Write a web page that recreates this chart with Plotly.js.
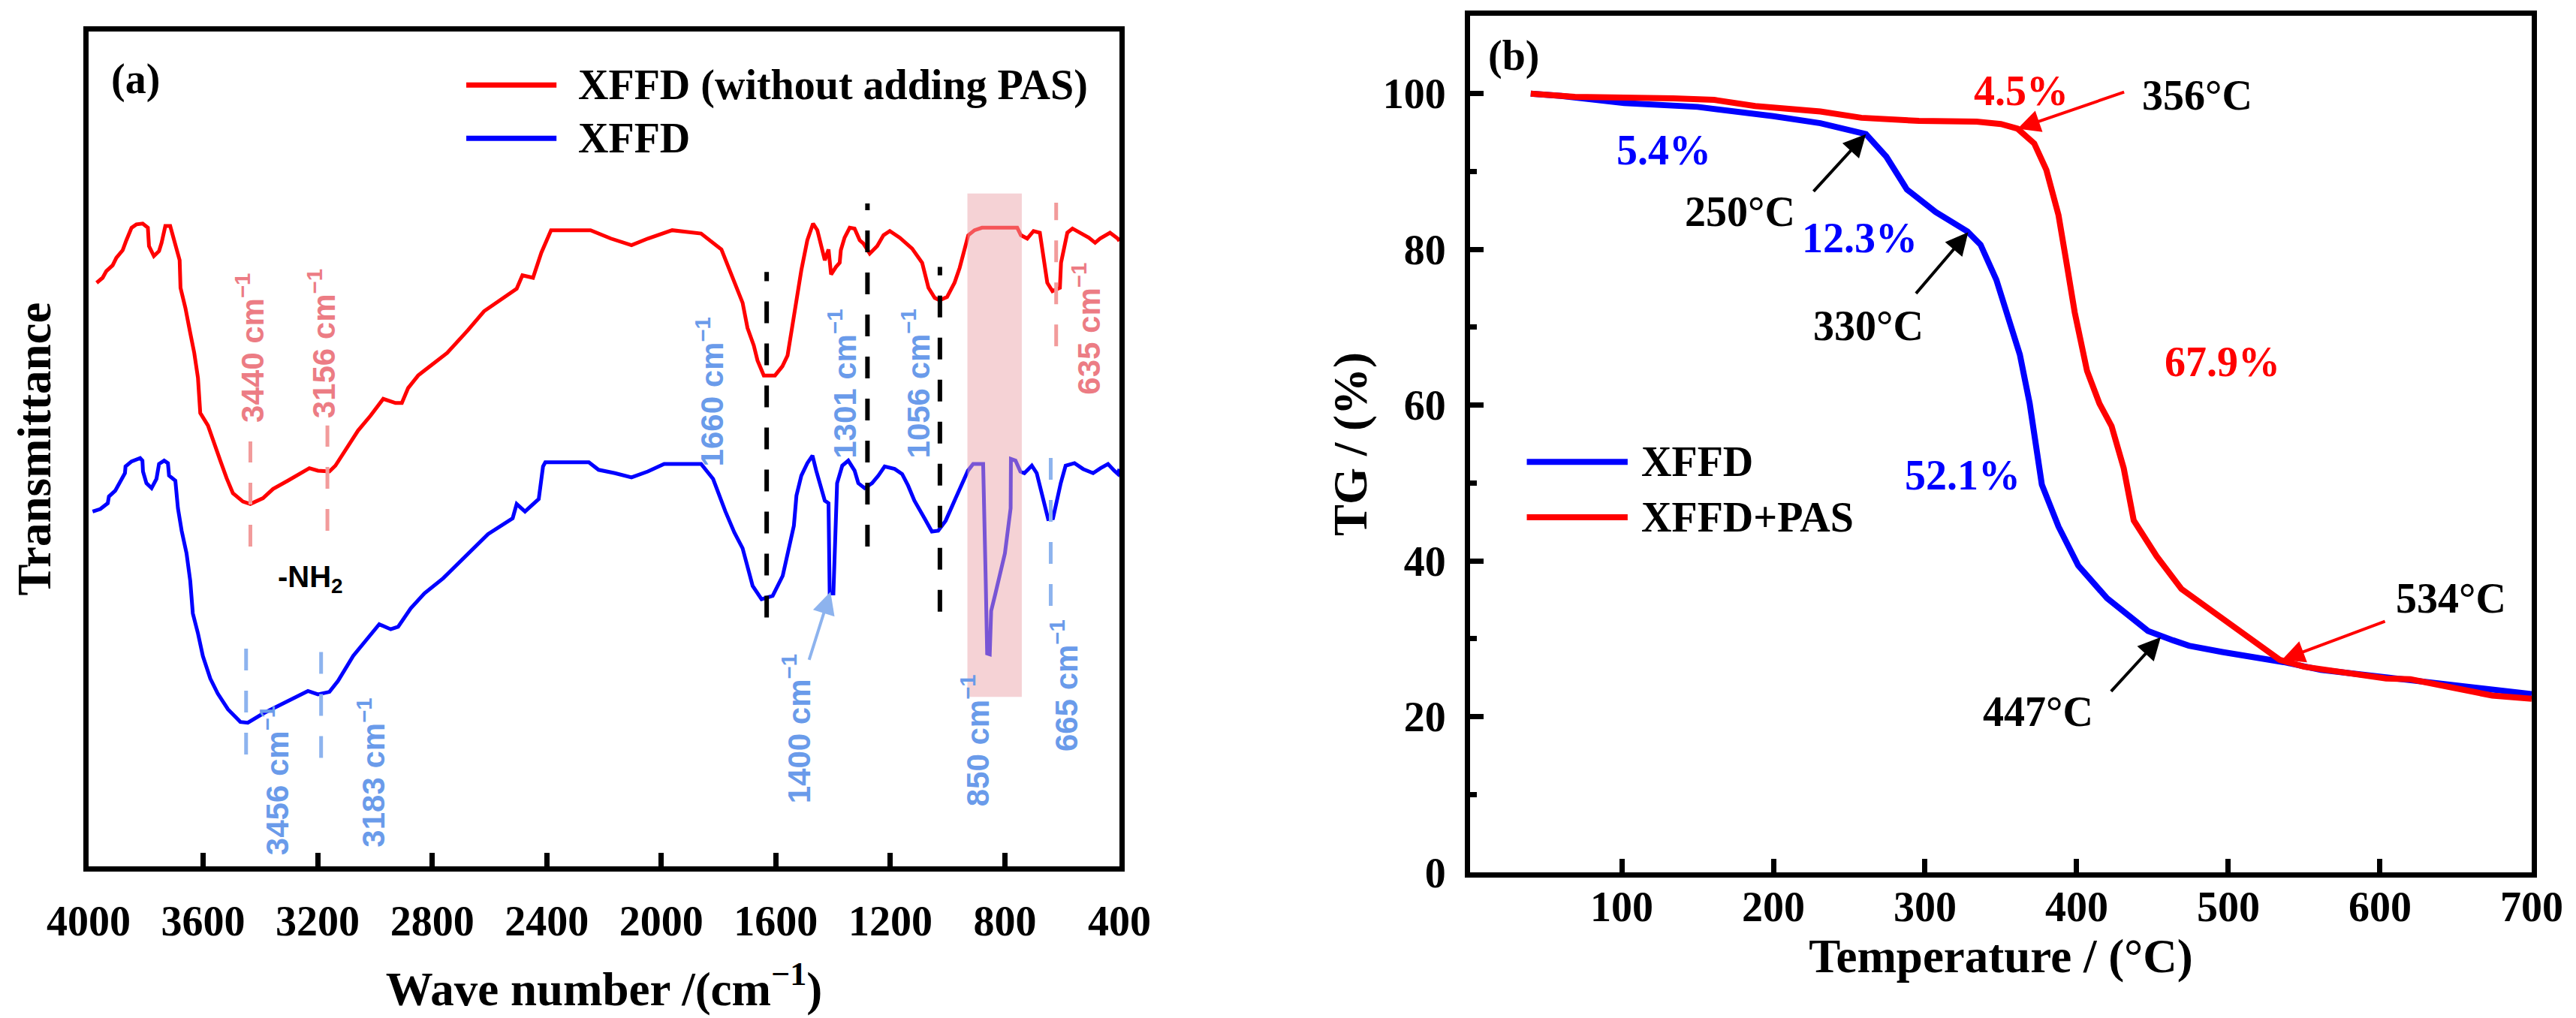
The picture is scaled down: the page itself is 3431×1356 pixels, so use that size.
<!DOCTYPE html>
<html><head><meta charset="utf-8">
<script src="https://cdn.plot.ly/plotly-3.0.1.min.js"></script>
<style>html,body{margin:0;padding:0;background:#fff;} #chart{width:3431px;height:1356px;}</style>
</head><body><div id="chart"></div>
<script>
// ---------- (a) FTIR spectra ----------
const ftirWaveRed = [3972,3951,3938,3916,3903,3881,3868,3850,3833,3811,3793,3789,3772,3754,3745,3732,3715,3697,3682,3679,3662,3645,3631,3618,3610,3583,3566,3540,3518,3496,3461,3435,3391,3356,3304,3260,3229,3199,3159,3138,3103,3059,3015,2971,2928,2906,2884,2849,2827,2748,2676,2619,2505,2485,2448,2419,2385,2247,2176,2104,2047,1962,1861,1790,1716,1699,1677,1664,1642,1603,1577,1559,1542,1529,1511,1490,1470,1455,1429,1416,1407,1390,1377,1373,1360,1342,1325,1307,1294,1272,1246,1224,1202,1167,1124,1089,1067,1045,1028,1002,976,958,941,928,906,880,757,744,722,700,678,665,652,634,608,604,582,564,529,507,485,468,433,406,400];
const ftirTransRed = [69.9,70.5,71.3,72.0,72.9,73.8,75.0,76.5,76.9,77.0,76.5,74.3,73.1,73.7,74.7,76.7,76.7,74.4,72.6,69.3,66.9,63.9,61.5,58.5,54.3,52.8,51.0,48.6,46.5,44.7,43.7,43.4,44.1,45.2,46.2,47.1,47.7,47.4,47.3,48.0,49.8,52.2,54.0,56.0,55.5,55.5,57.3,58.8,59.4,61.5,64.2,66.5,69.2,70.8,70.5,73.5,76.2,76.2,75.2,74.4,75.2,76.2,75.8,73.9,67.5,64.5,62.4,60.6,58.8,58.8,59.9,61.2,64.8,67.8,71.4,75.0,77.0,76.2,72.6,73.9,70.9,71.8,72.3,73.8,75.3,76.5,76.4,75.0,74.6,73.4,74.3,75.6,76.1,75.3,74.0,72.3,69.3,68.1,67.8,68.2,69.9,71.7,74.1,75.6,76.2,76.5,76.5,75.6,75.2,76.1,75.9,73.2,69.9,68.9,69.3,72.3,75.9,76.4,75.8,75.3,74.7,75.2,75.9,75.2,74.9];
const ftirWaveBlue = [3986,3959,3933,3929,3907,3894,3873,3871,3850,3820,3812,3810,3798,3780,3763,3754,3736,3723,3719,3697,3688,3675,3658,3645,3636,3618,3601,3575,3549,3513,3470,3444,3391,3339,3286,3234,3199,3159,3129,3076,3033,2985,2945,2919,2875,2827,2762,2705,2605,2519,2505,2476,2428,2413,2405,2253,2219,2162,2104,2047,1990,1861,1819,1776,1745,1716,1681,1650,1611,1576,1554,1537,1528,1511,1490,1472,1459,1429,1416,1412,1399,1390,1386,1368,1347,1325,1312,1290,1264,1242,1220,1185,1159,1138,1116,1081,1055,1033,1007,972,946,929,911,876,867,862,853,848,833,800,780,779,763,746,732,706,689,671,649,632,605,588,557,527,492,466,440,418,405,400];
const ftirTransBlue = [42.5,42.8,43.5,44.3,45.0,45.8,47.1,47.9,48.5,48.9,48.6,47.3,45.9,45.3,46.4,48.2,48.6,48.3,46.8,46.2,42.9,40.2,37.5,34.2,30.3,27.9,25.2,22.5,20.7,18.8,17.3,17.2,18.3,19.2,20.1,21.0,20.6,20.9,22.2,25.2,27.0,29.0,28.4,28.7,30.9,32.7,34.5,36.4,39.8,41.7,43.4,42.5,44.0,47.9,48.4,48.4,47.5,47.1,46.6,47.3,48.2,48.2,46.4,42.5,40.0,38.1,33.6,32.0,32.4,34.8,38.4,40.8,44.4,46.8,48.3,49.2,47.4,43.8,43.5,32.7,32.7,40.8,45.9,48.0,48.6,47.4,45.9,45.3,45.9,46.8,47.9,47.6,47.0,45.6,43.8,41.7,40.1,40.2,41.4,44.1,46.1,47.4,48.2,48.2,34.2,25.5,25.4,30.6,32.7,37.5,42.9,48.8,48.6,47.3,47.1,48.0,47.1,44.4,41.6,41.7,45.9,48.0,48.3,47.6,47.1,47.7,48.2,47.4,47.0,47.6];
const ftirTickVals = [4000,3600,3200,2800,2400,2000,1600,1200,800,400];
const ftirSeriesNames = ['XFFD (without adding PAS)', 'XFFD'];

// ---------- (b) TG curves ----------
const tgTempXFFD = [40,60,101.6,150,200,231,261,274.5,288,307,328,336.6,347,355.5,362.5,369,372.8,377,388,401,420,447,463.5,474,496,517.5,536.5,561,598.6,636,663,700];
const tgXFFD = [100,99.7,98.8,98.3,97.1,96.2,94.8,91.9,87.7,84.8,82.3,80.6,76.1,71.1,66.5,60.2,55.2,49.8,44.4,39.4,35.2,31.0,29.8,29.1,28.3,27.7,27.0,26.0,25.2,24.4,23.7,22.9];
const tgTempPAS = [40,69,134,161,188,204,231,258,296,334,350,361,372,380,388,393,398.7,406.8,415,423,431,437.6,452.7,469,501,533.8,550,582,604,620,647,674,700];
const tgPAS = [100,99.6,99.4,99.2,98.4,98.1,97.7,96.9,96.5,96.4,96.1,95.5,93.6,90.2,84.4,78.6,71.9,64.4,60.2,57.3,51.9,45.2,40.6,36.4,31.8,27.3,26.4,25.6,24.9,24.8,23.7,22.7,22.3];
const tgXTickVals = [100,200,300,400,500,600,700];
const tgYTickVals = [0,20,40,60,80,100];
const tgYMinorVals = [10,30,50,70,90];
const tgSeriesNames = ['XFFD', 'XFFD+PAS'];

const SERIF = 'Liberation Serif, Times New Roman, serif';
const SANS = 'Liberation Sans, Arial, sans-serif';
const RED = '#ff0000', BLUE = '#0000ff';
const PINK_TXT = '#ec7c84', PINK_LN = '#f29b9b', LBLUE_TXT = '#6a9bea', LBLUE_LN = '#8db3ee';

const traces = [
  {x: ftirWaveRed, y: ftirTransRed, xaxis:'x', yaxis:'y', mode:'lines', name: ftirSeriesNames[0], line:{color:RED, width:5}, showlegend:false},
  {x: ftirWaveBlue, y: ftirTransBlue, xaxis:'x', yaxis:'y', mode:'lines', name: ftirSeriesNames[1], line:{color:BLUE, width:5}, showlegend:false},
  {x: tgTempXFFD, y: tgXFFD, xaxis:'x2', yaxis:'y2', mode:'lines', name: tgSeriesNames[0], line:{color:BLUE, width:8}, showlegend:false},
  {x: tgTempPAS, y: tgPAS, xaxis:'x2', yaxis:'y2', mode:'lines', name: tgSeriesNames[1], line:{color:RED, width:8}, showlegend:false}
];

function axisBase(){
  return {showline:true, linecolor:'#000', linewidth:7, mirror:true, showgrid:false, zeroline:false,
          ticks:'inside', ticklen:18, tickwidth:7, tickcolor:'#000', automargin:false,
          tickfont:{family:SERIF, size:56, color:'#000', weight:'bold'}};
}
const titleFont = {family:SERIF, size:63, color:'#000', weight:'bold'};

const xa = Object.assign(axisBase(), {domain:[0.03439,0.43457], range:[4000,400], tickmode:'array', tickvals:ftirTickVals, anchor:'y', ticklabelstandoff:18,
  title:{text:'Wave number /(cm<sup>−1</sup>)', font:titleFont, standoff:40}});
const ya = Object.assign(axisBase(), {domain:[0.14897,0.96903], range:[0,100], showticklabels:false, ticks:'', anchor:'x',
  title:{text:'Transmittance', font:titleFont, standoff:25}});
const xa2 = Object.assign(axisBase(), {domain:[0.57068,0.98280], range:[0,700], tickmode:'array', tickvals:tgXTickVals, anchor:'y2', ticklabelstandoff:-9,
  title:{text:'Temperature / (°C)', font:titleFont, standoff:15}});
const ya2 = Object.assign(axisBase(), {domain:[0.14307,0.98451], range:[0,110], tickmode:'array', tickvals:tgYTickVals, anchor:'x2', ticklabelstandoff:14,
  minor:{tickmode:'array', tickvals:tgYMinorVals, ticks:'inside', ticklen:9, tickwidth:7, tickcolor:'#000'},
  title:{text:'TG / (%)', font:titleFont, standoff:3}});

function vline(xr, yr, x, y0, y1, color, width){
  return {type:'line', xref:xr, yref:yr, x0:x, x1:x, y0:y0, y1:y1, layer:'above', line:{color:color, width:width, dash:'29px,27px'}};
}
const shapes = [
  {type:'rect', xref:'x', yref:'y', x0:931, x1:741, y0:20.3, y1:80.6, layer:'above', fillcolor:'rgb(235,167,172)', opacity:0.51, line:{width:0}},
  vline('x','y',1632,29.8,71.2,'#000',6),
  vline('x','y',1280,38.3,79.4,'#000',6),
  vline('x','y',1027,30.5,71.8,'#000',6),
  vline('x','y',3435,38.3,50.9,PINK_LN,5),
  vline('x','y',3166,40.2,52.8,PINK_LN,5),
  vline('x','y',621,62.3,79.5,PINK_LN,5),
  vline('x','y',3450,13.4,26.1,LBLUE_LN,5),
  vline('x','y',3188,13.0,25.8,LBLUE_LN,5),
  vline('x','y',640,31.2,49.1,LBLUE_LN,5),
  // legend keys
  {type:'line', xref:'x', yref:'y', x0:2681, x1:2366, y0:93.6, y1:93.6, line:{color:RED, width:7}},
  {type:'line', xref:'x', yref:'y', x0:2681, x1:2366, y0:87.2, y1:87.2, line:{color:BLUE, width:7}},
  {type:'line', xref:'x2', yref:'y2', x0:37.4, x1:103.9, y0:52.7, y1:52.7, line:{color:BLUE, width:8}},
  {type:'line', xref:'x2', yref:'y2', x0:37.4, x1:103.9, y0:45.6, y1:45.6, line:{color:RED, width:8}}
];

function txt(xr, yr, x, y, text, font, extra){
  return Object.assign({xref:xr, yref:yr, x:x, y:y, text:text, showarrow:false, font:font, xanchor:'center', yanchor:'middle'}, extra||{});
}
function rot(x, y, text, color){
  return txt('x','y',x,y,text,{family:SANS, size:42, color:color, weight:'bold'},{textangle:-90});
}
function arrow(xr, yr, tx, ty, hx, hy, color){
  return {xref:xr, yref:yr, axref:xr, ayref:yr, x:hx, y:hy, ax:tx, ay:ty, text:'', showarrow:true,
          arrowhead:2, arrowsize:1.5, arrowwidth:4, arrowcolor:color, standoff:0, startstandoff:0};
}
const bold = (c) => ({family:SERIF, size:56, color:c, weight:'bold'});
const annotations = [
  txt('x','y',3835,94.3,'(a)',bold('#000')),
  txt('x','y',2296,93.6,ftirSeriesNames[0],bold('#000'),{xanchor:'left'}),
  txt('x','y',2296,87.2,ftirSeriesNames[1],bold('#000'),{xanchor:'left'}),
  rot(3435,62.1,'3440 cm<sup>−1</sup>',PINK_TXT),
  rot(3186,62.6,'3156 cm<sup>−1</sup>',PINK_TXT),
  rot(516,64.4,'635 cm<sup>−1</sup>',PINK_TXT),
  rot(1829,56.8,'1660 cm<sup>−1</sup>',LBLUE_TXT),
  rot(1366,57.8,'1301 cm<sup>−1</sup>',LBLUE_TXT),
  rot(1110,57.8,'1056 cm<sup>−1</sup>',LBLUE_TXT),
  rot(3348,10.3,'3456 cm<sup>−1</sup>',LBLUE_TXT),
  rot(3011,11.2,'3183 cm<sup>−1</sup>',LBLUE_TXT),
  rot(1528,16.5,'1400 cm<sup>−1</sup>',LBLUE_TXT),
  rot(903,15.1,'850 cm<sup>−1</sup>',LBLUE_TXT),
  rot(593,21.7,'665 cm<sup>−1</sup>',LBLUE_TXT),
  txt('x','y',3225,34.4,'-NH<sub>2</sub>',{family:SANS, size:40, color:'#000', weight:'bold'}),
  arrow('x','y',1485,24.6,1409,32.9,LBLUE_LN),
  // (b)
  txt('x2','y2',28.6,104.8,'(b)',bold('#000')),
  txt('x2','y2',127.5,92.7,'5.4%',bold(BLUE)),
  txt('x2','y2',363.6,100.4,'4.5%',bold(RED)),
  txt('x2','y2',479.7,99.8,'356°C',bold('#000')),
  txt('x2','y2',178,84.8,'250°C',bold('#000')),
  txt('x2','y2',257,81.5,'12.3%',bold(BLUE)),
  txt('x2','y2',262.5,70.2,'330°C',bold('#000')),
  txt('x2','y2',496,65.6,'67.9%',bold(RED)),
  txt('x2','y2',324.7,51.0,'52.1%',bold(BLUE)),
  txt('x2','y2',374.4,20.6,'447°C',bold('#000')),
  txt('x2','y2',647,35.2,'534°C',bold('#000')),
  txt('x2','y2',111.9,52.7,tgSeriesNames[0],bold('#000'),{xanchor:'left'}),
  txt('x2','y2',111.9,45.6,tgSeriesNames[1],bold('#000'),{xanchor:'left'}),
  arrow('x2','y2',432,100.25,361,95.5,RED),
  arrow('x2','y2',225.8,87.3,261,94.8,'#000'),
  arrow('x2','y2',293.4,74.2,328.5,82.2,'#000'),
  arrow('x2','y2',422,23.1,455.4,30.2,'#000'),
  arrow('x2','y2',604,32.3,535.4,27.3,RED)
];

const layout = {
  width:3431, height:1356, margin:{l:0,r:0,t:0,b:0}, paper_bgcolor:'#fff', plot_bgcolor:'#fff',
  showlegend:false, xaxis:xa, yaxis:ya, xaxis2:xa2, yaxis2:ya2, shapes:shapes, annotations:annotations,
  font:{family:SERIF, color:'#000'}
};
Plotly.newPlot('chart', traces, layout, {staticPlot:true, displayModeBar:false});
</script></body></html>
